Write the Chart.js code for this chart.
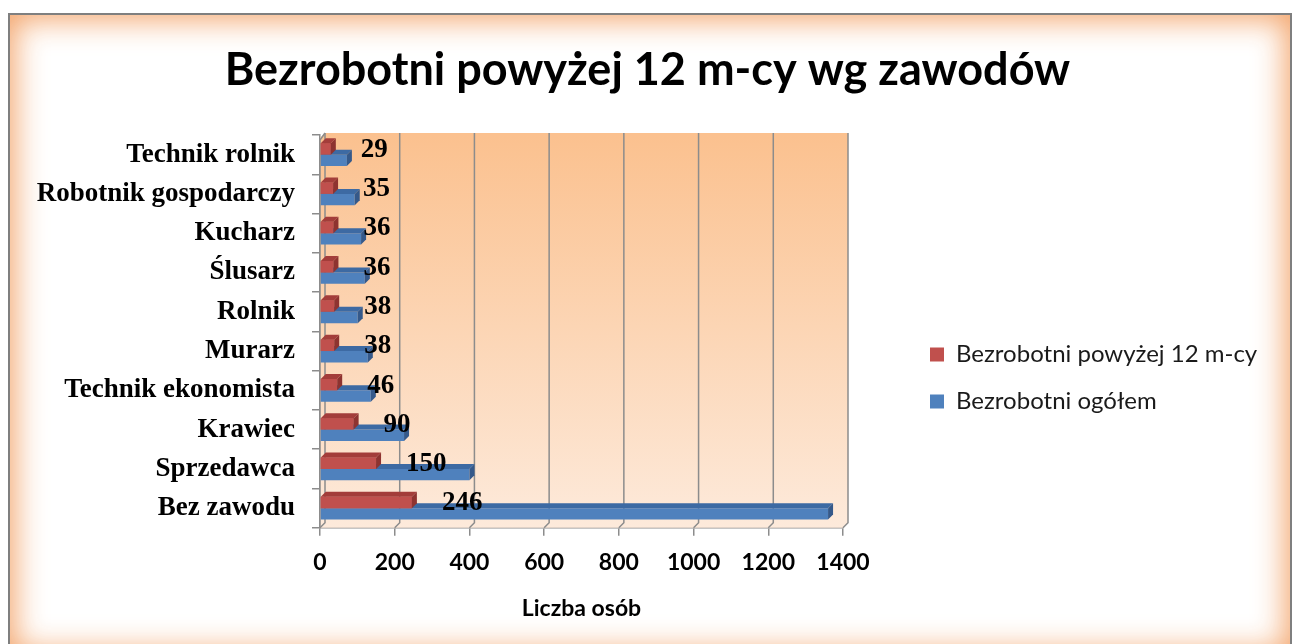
<!DOCTYPE html>
<html><head><meta charset="utf-8">
<script src="https://cdn.jsdelivr.net/npm/chart.js@4.4.1/dist/chart.umd.min.js"></script>
<style>
html,body{margin:0;padding:0;background:#fff;width:1295px;height:644px;overflow:hidden}
#frame{position:absolute;left:8px;top:13px;width:1280px;height:640px;border:2px solid #7f7f7f;box-shadow:inset 0 0 30px 5px rgba(242,160,100,0.95);background:#fff}
#c{position:absolute;left:0;top:0}
</style></head><body>
<div id="frame"></div>
<canvas id="c" width="1295" height="644"></canvas>
<script>
const categories = ['Technik rolnik','Robotnik gospodarczy','Kucharz','Ślusarz','Rolnik','Murarz','Technik ekonomista','Krawiec','Sprzedawca','Bez zawodu'];
const over12 = [29,35,36,36,38,38,46,90,150,246];
const total = [72,93,110,120,101,128,136,225,400,1360];
const xTicks = [0,200,400,600,800,1000,1200,1400];
const seriesNames = ['Bezrobotni powyżej 12 m-cy','Bezrobotni ogółem'];
const titleText = 'Bezrobotni powyżej 12 m-cy wg zawodów';
const axisTitle = 'Liczba osób';

const D = 5;
const LEGEND_W = 365;
const shade = {'#c0504d':['#8e3330','#a33d3a'], '#4f81bd':['#35598a','#3d6aa3']};

const legendWidth = {
  id:'legendWidth',
  beforeLayout(chart){
    const lg = chart.legend;
    if (lg && !lg._wpatched){
      const orig = lg.fit;
      lg.fit = function(){ orig.call(this); this.width = LEGEND_W; };
      lg._wpatched = true;
    }
  }
};

const bgPlugin = {
  id:'bg',
  beforeDatasetsDraw(chart){
    const {ctx, chartArea:a, scales:{x}} = chart;
    ctx.save();
    const g = ctx.createLinearGradient(0,a.top,0,a.bottom);
    g.addColorStop(0,'#fbc18f');
    g.addColorStop(1,'#fdeadb');
    ctx.fillStyle = g;
    ctx.beginPath();
    ctx.moveTo(a.left+D,a.top-2);
    ctx.lineTo(a.right+D,a.top-2);
    ctx.lineTo(a.right+D,a.bottom-D);
    ctx.lineTo(a.right,a.bottom);
    ctx.lineTo(a.left,a.bottom);
    ctx.lineTo(a.left,a.top+D-2);
    ctx.closePath();
    ctx.fill();
    ctx.strokeStyle = '#8c8c8c';
    ctx.lineWidth = 1.5;
    xTicks.forEach(v=>{
      const px = x.getPixelForValue(v);
      ctx.beginPath();
      ctx.moveTo(px+D,a.top-2);
      ctx.lineTo(px+D,a.bottom-D);
      ctx.lineTo(px,a.bottom);
      ctx.stroke();
    });
    ctx.beginPath();
    ctx.moveTo(a.left,a.bottom);
    ctx.lineTo(a.left,a.top+D);
    ctx.lineTo(a.left+D,a.top-2);
    ctx.stroke();
    ctx.restore();
  }
};

const bar3d = {
  id:'bar3d',
  afterDatasetsDraw(chart){
    const ctx = chart.ctx;
    ctx.save();
    [1,0].forEach(di=>{
      const meta = chart.getDatasetMeta(di);
      const col = chart.data.datasets[di].backgroundColor;
      meta.data.forEach(el=>{
        if (di === 0) el.draw(ctx);
        const {x,y,base,height} = el.getProps(['x','y','base','height'],true);
        const t = y-height/2, b = y+height/2;
        ctx.fillStyle = shade[col][1];
        ctx.beginPath();
        ctx.moveTo(base,t);ctx.lineTo(base+D,t-D);ctx.lineTo(x+D,t-D);ctx.lineTo(x,t);ctx.closePath();ctx.fill();
        ctx.fillStyle = shade[col][0];
        ctx.beginPath();
        ctx.moveTo(x,t);ctx.lineTo(x+D,t-D);ctx.lineTo(x+D,b-D);ctx.lineTo(x,b);ctx.closePath();ctx.fill();
      });
    });
    const meta0 = chart.getDatasetMeta(0);
    ctx.fillStyle = '#000';
    ctx.font = 'bold 27px "Liberation Serif", serif';
    ctx.textAlign = 'left';
    ctx.textBaseline = 'middle';
    meta0.data.forEach((el,i)=>{
      ctx.fillText(String(over12[i]), el.x+30, el.y+1);
    });
    ctx.restore();
  }
};

new Chart(document.getElementById('c'),{
  type:'bar',
  data:{
    labels:categories,
    datasets:[
      {label:seriesNames[0], data:over12, backgroundColor:'#c0504d', borderWidth:0, categoryPercentage:0.58, barPercentage:1},
      {label:seriesNames[1], data:total, backgroundColor:'#4f81bd', borderWidth:0, categoryPercentage:0.58, barPercentage:1}
    ]
  },
  plugins:[legendWidth, bgPlugin, bar3d],
  options:{
    indexAxis:'y',
    responsive:false,
    animation:false,
    layout:{padding:{left:23,right:23,top:0,bottom:18}},
    scales:{
      x:{
        min:0,max:1400,
        afterBuildTicks(s){ s.ticks = xTicks.map(v=>({value:v})); },
        grid:{drawOnChartArea:false, drawTicks:true, tickLength:8, color:'#8c8c8c', lineWidth:1.5},
        border:{display:true,color:'#8c8c8c',width:1.5},
        ticks:{padding:13, color:'#000', maxRotation:0, callback:v=>String(v), font:{family:'Lato', size:23, weight:'bold'}},
        title:{display:true, text:axisTitle, color:'#000', font:{family:'Lato', size:23, weight:'bold'}, padding:{top:5,bottom:4}}
      },
      y:{
        afterFit(s){ s.width = 297; },
        grid:{drawOnChartArea:false, drawTicks:true, tickLength:8, color:'#8c8c8c', lineWidth:1.5, offset:true},
        border:{display:true,color:'#8c8c8c',width:1.5},
        ticks:{padding:17, color:'#000', font:{family:'Liberation Serif', size:27, weight:'bold'}}
      },
      y2:{
        type:'category', labels:categories, position:'right', display:true,
        afterFit(s){ s.width = 64; },
        grid:{display:false, drawTicks:false}, border:{display:false},
        ticks:{display:false}
      }
    },
    plugins:{
      title:{display:true, text:titleText, color:'#000', font:{family:'Lato', size:45, weight:'bold'}, padding:{top:43,bottom:38}},
      legend:{position:'right', align:'center',
        title:{display:true, text:'', font:{size:10, lineHeight:1.2}, padding:{top:118,bottom:0}},
        labels:{boxWidth:14, boxHeight:14, padding:23, color:'#1a1a1a', font:{family:'Lato', size:24}}},
      tooltip:{enabled:false}
    }
  }
});
</script>
</body></html>
